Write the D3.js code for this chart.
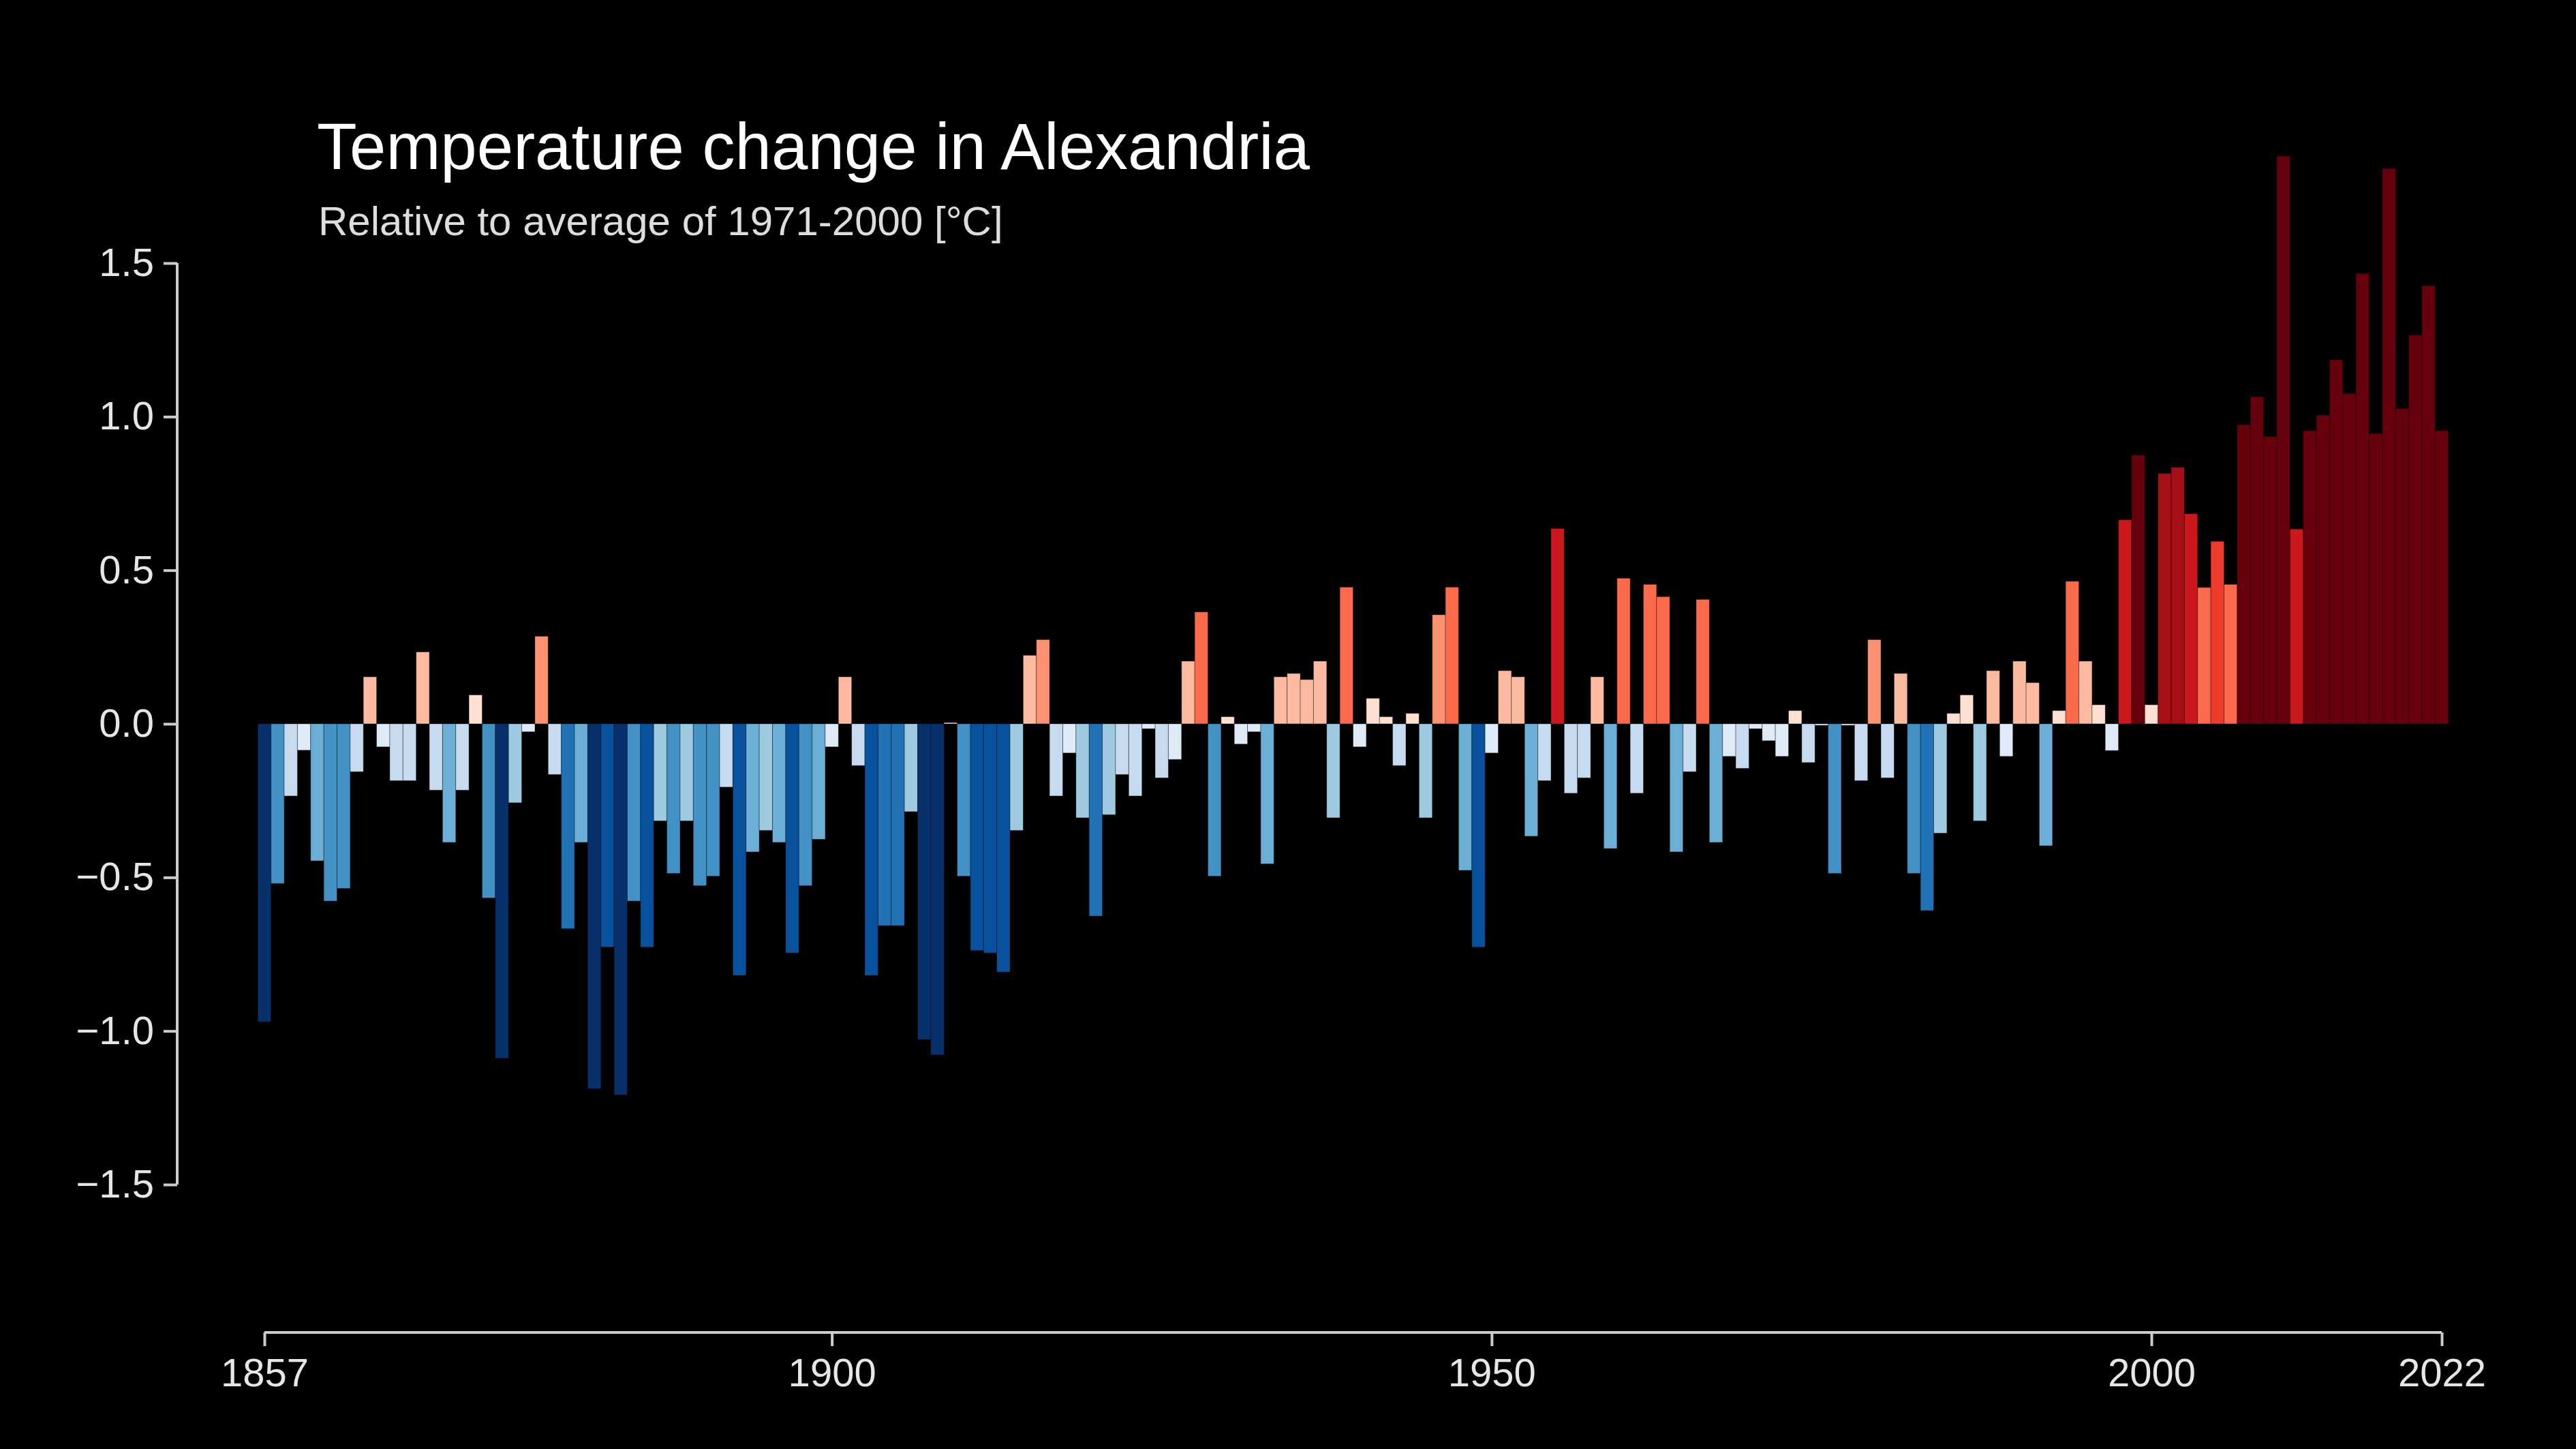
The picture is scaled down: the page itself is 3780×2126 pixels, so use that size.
<!DOCTYPE html>
<html>
<head>
<meta charset="utf-8">
<script src="https://cdn.jsdelivr.net/npm/d3@7"></script>
<style>
  html, body { margin: 0; padding: 0; background: #000; }
  svg { display: block; }
</style>
</head>
<body>
<div id="chart"></div>
<script>
// Annual temperature anomaly in Alexandria, 1857-2022 (°C, vs 1971-2000 mean)
const firstYear = 1857;
const anomalies = [
  -0.97, -0.52, -0.235, -0.086, -0.446, -0.577, -0.536, -0.156, 0.153, -0.075,
  -0.185, -0.185, 0.234, -0.216, -0.386, -0.216, 0.094, -0.567, -1.089, -0.257,
  -0.026, 0.285, -0.165, -0.667, -0.386, -1.188, -0.727, -1.208, -0.577, -0.727,
  -0.316, -0.487, -0.316, -0.527, -0.496, -0.206, -0.819, -0.417, -0.347, -0.386,
  -0.746, -0.527, -0.376, -0.075, 0.153, -0.136, -0.819, -0.657, -0.657, -0.286,
  -1.028, -1.078, 0.004, -0.496, -0.738, -0.746, -0.808, -0.347, 0.223, 0.274,
  -0.235, -0.095, -0.306, -0.626, -0.296, -0.165, -0.235, -0.016, -0.176, -0.116,
  0.204, 0.364, -0.496, 0.023, -0.066, -0.026, -0.456, 0.153, 0.164, 0.144,
  0.204, -0.306, 0.445, -0.075, 0.083, 0.023, -0.136, 0.034, -0.306, 0.355,
  0.445, -0.477, -0.727, -0.095, 0.173, 0.153, -0.366, -0.185, 0.636, -0.226,
  -0.176, 0.153, -0.406, 0.474, -0.226, 0.454, 0.414, -0.417, -0.156, 0.405,
  -0.386, -0.106, -0.145, -0.016, -0.055, -0.106, 0.043, -0.126, -0.005, -0.487,
  -0.005, -0.185, 0.274, -0.176, 0.164, -0.487, -0.608, -0.356, 0.034, 0.094,
  -0.316, 0.173, -0.106, 0.204, 0.134, -0.397, 0.043, 0.464, 0.204, 0.062,
  -0.087, 0.664, 0.875, 0.062, 0.815, 0.835, 0.684, 0.444, 0.594, 0.454,
  0.974, 1.065, 0.935, 1.848, 0.634, 0.954, 1.005, 1.185, 1.075, 1.466,
  0.945, 1.808, 1.026, 1.266, 1.426, 0.954
];
const years = anomalies.map((d, i) => firstYear + i);
const yTicks = [-1.5, -1.0, -0.5, 0.0, 0.5, 1.0, 1.5];
const xTicks = [1857, 1900, 1950, 2000, 2022];
const stripeColors = [
  "#08306b", "#08519c", "#2171b5", "#4292c6", "#6baed6", "#9ecae1", "#c6dbef", "#deebf7",
  "#fee0d2", "#fcbba1", "#fc9272", "#fb6a4a", "#ef3b2c", "#cb181d", "#a50f15", "#67000d"
];

const width = 3780, height = 2126;
const font = "'Liberation Sans', Arial, sans-serif";

const svg = d3.select("#chart").append("svg")
    .attr("width", width)
    .attr("height", height)
    .style("background", "#000");

const x = d3.scaleLinear().domain([1857, 2022]).range([388, 3583]);
const y = d3.scaleLinear().domain([-1.5, 1.5]).range([1738, 386]);
const color = d3.scaleQuantize().domain([-0.96, 0.96]).range(stripeColors);
const barW = x(1858) - x(1857);

// bars
svg.append("g")
  .selectAll("rect")
  .data(anomalies)
  .join("rect")
    .attr("x", (d, i) => x(years[i]) - barW / 2)
    .attr("width", barW)
    .attr("y", d => y(Math.max(0, d)))
    .attr("height", d => Math.abs(y(d) - y(0)))
    .attr("fill", d => color(d))
    .attr("stroke", "rgba(0,0,0,0.35)")
    .attr("stroke-width", 1);

// y axis
const yAxis = svg.append("g")
    .attr("transform", "translate(260,0)")
    .call(d3.axisLeft(y).tickValues(yTicks).tickFormat(d3.format(".1f")).tickSize(20).tickPadding(14));

// x axis
const xAxis = svg.append("g")
    .attr("transform", "translate(0,1955)")
    .call(d3.axisBottom(x).tickValues(xTicks).tickFormat(d3.format("d")).tickSize(20).tickPadding(18));

[yAxis, xAxis].forEach(ax => {
  ax.select(".domain").attr("stroke", "#ccc").attr("stroke-width", 4);
  ax.selectAll(".tick line").attr("stroke", "#ccc").attr("stroke-width", 4);
  ax.selectAll(".tick text")
    .attr("fill", "#e6e6e6")
    .style("font-family", font)
    .style("font-size", "58px");
});
// y axis domain: d3 draws outer ticks; hide them and keep plain line
yAxis.select(".domain").attr("d", `M0,${y(1.5)}V${y(-1.5)}`);
xAxis.select(".domain").attr("d", `M${x(1857)},0H${x(2022)}`);

// titles
svg.append("text")
    .attr("x", 465).attr("y", 248)
    .attr("fill", "#fff")
    .style("font-family", font)
    .style("font-size", "96px")
    .text("Temperature change in Alexandria");

svg.append("text")
    .attr("x", 467).attr("y", 345)
    .attr("fill", "#ddd")
    .style("font-family", font)
    .style("font-size", "60px")
    .text("Relative to average of 1971-2000  [°C]");
</script>
</body>
</html>
